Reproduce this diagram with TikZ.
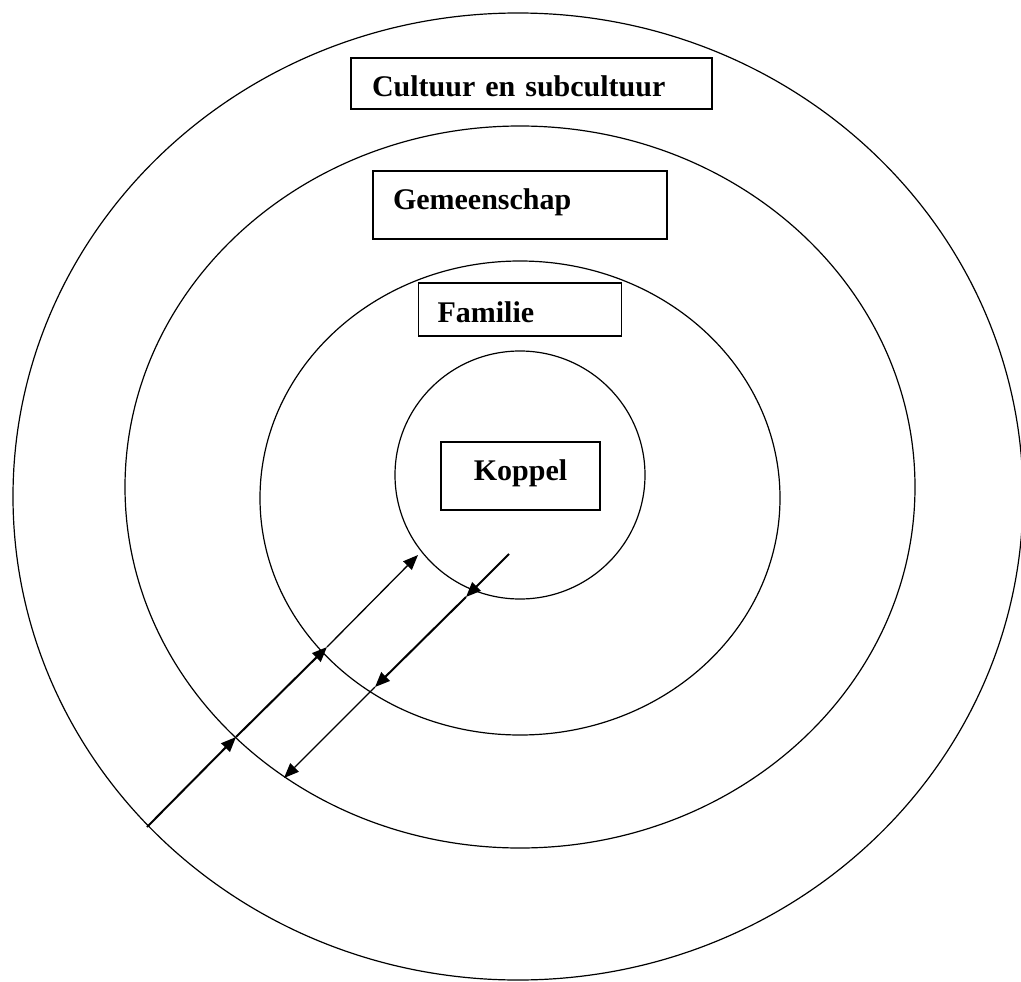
\documentclass[tikz,border=0pt]{standalone}
\usepackage{fontspec}
\setmainfont{Liberation Serif}
\usepackage{tikz}
\usetikzlibrary{arrows.meta}

\begin{document}
\begin{tikzpicture}[x=1pt, y=-1pt, line width=1.2pt,
        labelbox/.style={draw, rectangle, line width=1.5pt, inner ysep=0pt, align=left,
            font=\bfseries\fontsize{30}{36}\selectfont},
        flow/.style={-{Triangle[length=15pt, width=12pt]}}]
        \useasboundingbox (0,0) rectangle (1021,982);
        % rings
        \draw (518,496.5) ellipse [x radius=505pt, y radius=483.5pt];
        \draw (520,487) ellipse [x radius=395pt, y radius=361pt];
        \draw (520,498) ellipse [x radius=260pt, y radius=237pt];
        \draw (520,475) ellipse [x radius=125pt, y radius=124pt];
        % labels
        \node[labelbox, inner xsep=21pt, text width=319pt, minimum height=51pt,
              text height=25pt, text depth=0pt] (cultuur) at (531.5,83.5) {Cultuur en subcultuur};
        \node[labelbox, inner xsep=20pt, text width=254pt, minimum height=68pt,
              text height=20pt, text depth=12pt] (gemeenschap) at (520,205) {Gemeenschap};
        \node[labelbox, inner xsep=19pt, text width=165pt, minimum height=53pt,
              text height=25pt, text depth=0pt] (familie) at (520,309.5) {Familie};
        \node[labelbox, align=center, minimum width=159pt, minimum height=68pt,
              text height=20pt, text depth=12pt] (koppel) at (520.5,476) {Koppel};
        % arrows
        \coordinate (in0) at (147,827);
        \coordinate (in1) at (236,737);
        \coordinate (in2) at (327,647);
        \coordinate (in3) at (418,555);
        \coordinate (out0) at (509,554);
        \coordinate (out1) at (466,597);
        \coordinate (out2) at (375,687);
        \coordinate (out3) at (284,778);
        \draw[flow, line width=2pt] (in0) -- (in1);
        \draw[flow, line width=2pt] (in1) -- (in2);
        \draw[flow, line width=1.3pt] (in2) -- (in3);
        \draw[flow, line width=2pt] (out0) -- (out1);
        \draw[flow, line width=2pt] (out1) -- (out2);
        \draw[flow, line width=1.3pt] (out2) -- (out3);
    \end{tikzpicture}
\end{document}
